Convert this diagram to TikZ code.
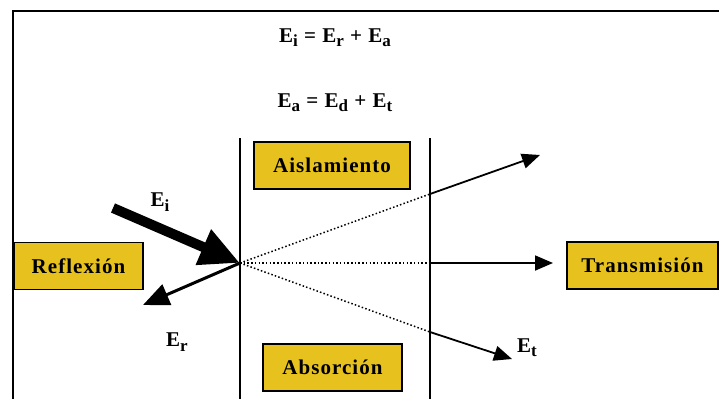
\documentclass[tikz,border=0pt]{standalone}
\usepackage{fontspec}
\setmainfont{Liberation Serif}[LetterSpace=5]
\usepackage{xcolor}
\usetikzlibrary{arrows.meta, positioning, calc}
\definecolor{boxgold}{RGB}{231,194,30}
\newcommand{\subx}[1]{\raisebox{-0.45ex}{\fontsize{17}{19}\selectfont #1}}
\tikzset{
    wavediagram/.style={x=1pt, y=-1pt, line width=1.8pt, font=\fontsize{21}{25}\selectfont\bfseries},
    label box/.style={draw, fill=boxgold, line width=1.8pt, minimum height=47pt, inner sep=0pt},
    wall/.style={line width=2pt},
    ray/.style={line width=1.5pt, dash pattern=on 1.5pt off 2.2pt},
    out ray/.style={line width=1.8pt, -{Triangle[length=18pt, width=15pt]}},
    % incident and reflected energy
    incident/.style={line width=10pt, -{Triangle[length=40pt, width=36pt]}},
    reflected/.style={line width=3pt, -{Triangle[length=26pt, width=22pt]}},
}

\begin{document}
\begin{tikzpicture}[wavediagram]
    \useasboundingbox (0,0) rectangle (719,399);

    \draw[wall, line width=2.6pt] (719,11) -- (13,11) -- (13,399);

    \node at (335,38) {E\subx{i} = E\subx{r} + E\subx{a}};
    \node at (335,103) {E\subx{a} = E\subx{d} + E\subx{t}};

    \draw[wall] (240,138) -- (240,399);
    \draw[wall] (430,138) -- (430,399);

    \node[label box, minimum width=129pt] (refl) at (78.5,266) {Reflexión};
    \node[label box, minimum width=156pt] (aisl) at (332,165.5) {Aislamiento};
    \node[label box, minimum width=139pt] (abso) at (332.5,367.5) {Absorción};
    \node[label box, minimum width=151pt] (trans) at (642.5,265.5) {Transmisión};

    \coordinate (apex) at (240,263);
    \coordinate (ei start) at (113,208);
    \coordinate (er end) at (143,305);

    \draw[incident] (ei start) -- (apex);
    \draw[reflected] (apex) -- (er end);
    \node at (160,202) {E\subx{i}};
    \node at (177,342) {E\subx{r}};

    \coordinate (wall up) at (430,194);
    \coordinate (wall mid) at (430,263);
    \coordinate (wall low) at (430,332);

    \draw[ray] (apex) -- (wall up);
    \draw[ray] (apex) -- (wall mid);
    \draw[ray] (apex) -- (wall low);

    \draw[out ray] (wall up) -- (540,155);
    \draw[out ray] (wall mid) -- (553,263);
    \draw[out ray] (wall low) -- (512,359);
    \node at (527,348) {E\subx{t}};
\end{tikzpicture}
\end{document}
